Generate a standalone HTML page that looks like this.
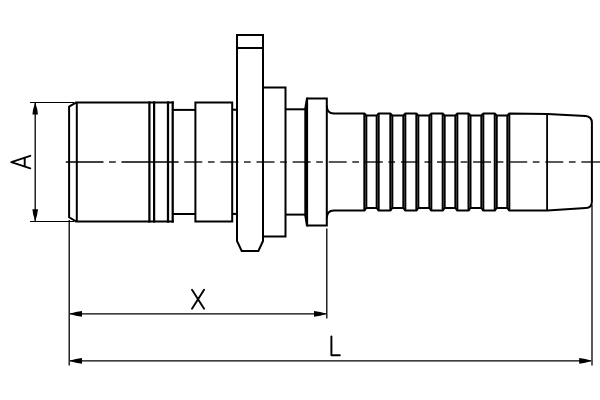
<!DOCTYPE html>
<html><head><meta charset="utf-8"><style>
html,body{margin:0;padding:0;background:#fff;}
body{width:600px;height:400px;overflow:hidden;font-family:"Liberation Sans",sans-serif;}
svg{display:block;}
</style></head><body>
<svg width="600" height="400" viewBox="0 0 600 400" stroke-linecap="butt">
<rect width="600" height="400" fill="#fff"/>
<path d="M76.4,102.4 L69.1,106.6 L69.1,217.3 L76.4,221.6" stroke="#000" stroke-width="2.0" fill="none" />
<line x1="76.8" y1="102.4" x2="76.8" y2="221.6" stroke="#000" stroke-width="2"/>
<line x1="75.7" y1="102.4" x2="173.8" y2="102.4" stroke="#000" stroke-width="2"/>
<line x1="75.7" y1="221.6" x2="173.8" y2="221.6" stroke="#000" stroke-width="2"/>
<line x1="149.4" y1="101.4" x2="149.4" y2="222.6" stroke="#000" stroke-width="2.25"/>
<line x1="154.1" y1="101.4" x2="154.1" y2="222.6" stroke="#000" stroke-width="2.25"/>
<line x1="168" y1="101.4" x2="168" y2="222.6" stroke="#000" stroke-width="2.25"/>
<line x1="172.7" y1="101.4" x2="172.7" y2="222.6" stroke="#000" stroke-width="2.25"/>
<line x1="172.7" y1="109.9" x2="195.4" y2="109.9" stroke="#000" stroke-width="2"/>
<line x1="172.7" y1="214" x2="195.4" y2="214" stroke="#000" stroke-width="2"/>
<path d="M195.4,221.6 L195.4,102.4 L232.2,102.4 L232.2,221.6 Z" stroke="#000" stroke-width="2.0" fill="none" />
<line x1="232.2" y1="109.7" x2="237" y2="109.7" stroke="#000" stroke-width="2"/>
<line x1="232.2" y1="213.9" x2="237" y2="213.9" stroke="#000" stroke-width="2"/>
<path d="M237,241 L237,35 L263,35 L263,241 L258.4,251 L241.7,251 Z" stroke="#000" stroke-width="2.0" fill="none" stroke-linejoin="miter"/>
<line x1="237" y1="48" x2="263" y2="48" stroke="#000" stroke-width="2"/>
<path d="M263,87.6 L285.5,87.6 L285.5,236.6 L263,236.6" stroke="#000" stroke-width="2.0" fill="none" />
<line x1="285.7" y1="109.3" x2="305" y2="109.3" stroke="#000" stroke-width="2"/>
<line x1="285.7" y1="214.6" x2="305" y2="214.6" stroke="#000" stroke-width="2"/>
<path d="M307,98.6 L326.8,98.6 L326.8,225.4 L307,225.4" stroke="#000" stroke-width="2.0" fill="none" />
<polygon points="306.1,97.6 308.1,97.6 308.1,226.4 306.1,226.4 304.3,215.7 304.3,108.3" fill="#000"/>
<path d="M326.8,105.8 Q326.8,113.5 333.8,113.5 L364.33,113.50 L366.33,115.40 L376.67,115.40 L378.67,113.50 L390.33,113.50 L392.33,115.40 L403.33,115.40 L405.33,113.50 L416.33,113.50 L418.33,115.40 L429.33,115.40 L431.33,113.50 L442.67,113.50 L444.67,115.40 L455.33,115.40 L457.33,113.50 L468.50,113.50 L470.50,115.40 L481.33,115.40 L483.33,113.50 L494.75,113.50 L496.75,115.40 L507.33,115.40 L509.33,113.50 L547.2,114.0 L585.5,115.9 Q591.9,116.3 591.9,122.8 L591.9,201.8 Q591.9,207.8 585.8,208.1 L547.2,210.5 L509.33,210.55 L509.33,210.55 L507.33,207.90 L496.75,207.90 L494.75,210.55 L483.33,210.55 L481.33,207.90 L470.50,207.90 L468.50,210.55 L457.33,210.55 L455.33,207.90 L444.67,207.90 L442.67,210.55 L431.33,210.55 L429.33,207.90 L418.33,207.90 L416.33,210.55 L405.33,210.55 L403.33,207.90 L392.33,207.90 L390.33,210.55 L378.67,210.55 L376.67,207.90 L366.33,207.90 L364.33,210.55 L333.8,210.55 Q326.8,210.55 326.8,218.2" stroke="#000" stroke-width="2.0" fill="none" stroke-linejoin="round"/>
<line x1="364.33" y1="113.5" x2="364.33" y2="210.55" stroke="#000" stroke-width="2"/>
<line x1="366.33" y1="115.4" x2="366.33" y2="207.9" stroke="#000" stroke-width="2"/>
<line x1="376.67" y1="115.4" x2="376.67" y2="207.9" stroke="#000" stroke-width="2"/>
<line x1="378.67" y1="113.5" x2="378.67" y2="210.55" stroke="#000" stroke-width="2"/>
<line x1="390.33" y1="113.5" x2="390.33" y2="210.55" stroke="#000" stroke-width="2"/>
<line x1="392.33" y1="115.4" x2="392.33" y2="207.9" stroke="#000" stroke-width="2"/>
<line x1="403.33" y1="115.4" x2="403.33" y2="207.9" stroke="#000" stroke-width="2"/>
<line x1="405.33" y1="113.5" x2="405.33" y2="210.55" stroke="#000" stroke-width="2"/>
<line x1="416.33" y1="113.5" x2="416.33" y2="210.55" stroke="#000" stroke-width="2"/>
<line x1="418.33" y1="115.4" x2="418.33" y2="207.9" stroke="#000" stroke-width="2"/>
<line x1="429.33" y1="115.4" x2="429.33" y2="207.9" stroke="#000" stroke-width="2"/>
<line x1="431.33" y1="113.5" x2="431.33" y2="210.55" stroke="#000" stroke-width="2"/>
<line x1="442.67" y1="113.5" x2="442.67" y2="210.55" stroke="#000" stroke-width="2"/>
<line x1="444.67" y1="115.4" x2="444.67" y2="207.9" stroke="#000" stroke-width="2"/>
<line x1="455.33" y1="115.4" x2="455.33" y2="207.9" stroke="#000" stroke-width="2"/>
<line x1="457.33" y1="113.5" x2="457.33" y2="210.55" stroke="#000" stroke-width="2"/>
<line x1="468.5" y1="113.5" x2="468.5" y2="210.55" stroke="#000" stroke-width="2"/>
<line x1="470.5" y1="115.4" x2="470.5" y2="207.9" stroke="#000" stroke-width="2"/>
<line x1="481.33" y1="115.4" x2="481.33" y2="207.9" stroke="#000" stroke-width="2"/>
<line x1="483.33" y1="113.5" x2="483.33" y2="210.55" stroke="#000" stroke-width="2"/>
<line x1="494.75" y1="113.5" x2="494.75" y2="210.55" stroke="#000" stroke-width="2"/>
<line x1="496.75" y1="115.4" x2="496.75" y2="207.9" stroke="#000" stroke-width="2"/>
<line x1="507.33" y1="115.4" x2="507.33" y2="207.9" stroke="#000" stroke-width="2"/>
<line x1="509.33" y1="113.5" x2="509.33" y2="210.55" stroke="#000" stroke-width="2"/>
<line x1="547.1" y1="113.8" x2="547.1" y2="210.5" stroke="#000" stroke-width="1.8"/>
<line x1="65.8" y1="162" x2="103.5" y2="162" stroke="#000" stroke-width="1.3"/>
<line x1="109" y1="162" x2="115.8" y2="162" stroke="#000" stroke-width="1.3"/>
<line x1="121.5" y1="162" x2="178.6" y2="162" stroke="#000" stroke-width="1.3"/>
<line x1="184.3" y1="162" x2="202.3" y2="162" stroke="#000" stroke-width="1.3"/>
<line x1="207.9" y1="162" x2="214.6" y2="162" stroke="#000" stroke-width="1.3"/>
<line x1="220.4" y1="162" x2="238.4" y2="162" stroke="#000" stroke-width="1.3"/>
<line x1="244" y1="162" x2="250.7" y2="162" stroke="#000" stroke-width="1.3"/>
<line x1="256.5" y1="162" x2="274.5" y2="162" stroke="#000" stroke-width="1.3"/>
<line x1="280.1" y1="162" x2="286.8" y2="162" stroke="#000" stroke-width="1.3"/>
<line x1="292.6" y1="162" x2="310.6" y2="162" stroke="#000" stroke-width="1.3"/>
<line x1="316.2" y1="162" x2="322.9" y2="162" stroke="#000" stroke-width="1.3"/>
<line x1="328.7" y1="162" x2="346.7" y2="162" stroke="#000" stroke-width="1.3"/>
<line x1="352.3" y1="162" x2="359" y2="162" stroke="#000" stroke-width="1.3"/>
<line x1="364.8" y1="162" x2="382.8" y2="162" stroke="#000" stroke-width="1.3"/>
<line x1="388.4" y1="162" x2="395.1" y2="162" stroke="#000" stroke-width="1.3"/>
<line x1="400.9" y1="162" x2="418.9" y2="162" stroke="#000" stroke-width="1.3"/>
<line x1="424.5" y1="162" x2="431.2" y2="162" stroke="#000" stroke-width="1.3"/>
<line x1="437" y1="162" x2="455" y2="162" stroke="#000" stroke-width="1.3"/>
<line x1="460.6" y1="162" x2="467.3" y2="162" stroke="#000" stroke-width="1.3"/>
<line x1="473.1" y1="162" x2="491.1" y2="162" stroke="#000" stroke-width="1.3"/>
<line x1="496.7" y1="162" x2="503.4" y2="162" stroke="#000" stroke-width="1.3"/>
<line x1="509.2" y1="162" x2="527.2" y2="162" stroke="#000" stroke-width="1.3"/>
<line x1="532.8" y1="162" x2="539.5" y2="162" stroke="#000" stroke-width="1.3"/>
<line x1="545.3" y1="162" x2="563.3" y2="162" stroke="#000" stroke-width="1.3"/>
<line x1="568.9" y1="162" x2="575.6" y2="162" stroke="#000" stroke-width="1.3"/>
<line x1="581.4" y1="162" x2="600" y2="162" stroke="#000" stroke-width="1.3"/>
<line x1="30" y1="102.5" x2="74" y2="102.5" stroke="#000" stroke-width="1.2"/>
<line x1="30" y1="221.5" x2="74" y2="221.5" stroke="#000" stroke-width="1.2"/>
<line x1="35.2" y1="103" x2="35.2" y2="221" stroke="#000" stroke-width="1.3"/>
<path d="M35.20,102.60 Q32.90,108.60 32.40,114.60 L38.00,114.60 Q37.50,108.60 35.20,102.60 Z" fill="#000"/>
<path d="M35.20,221.30 Q37.50,215.30 38.00,209.30 L32.40,209.30 Q32.90,215.30 35.20,221.30 Z" fill="#000"/>
<path d="M30.3,155.8 L11.3,162.1 L30.3,168.3 M24.7,157.7 L24.7,166.5" stroke="#000" stroke-width="1.9" fill="none" stroke-linecap="round" stroke-linejoin="round"/>
<line x1="69.2" y1="220" x2="69.2" y2="365.5" stroke="#000" stroke-width="1.3"/>
<line x1="326.8" y1="228.5" x2="326.8" y2="318.5" stroke="#000" stroke-width="1.3"/>
<line x1="592" y1="205" x2="592" y2="365.5" stroke="#000" stroke-width="1.3"/>
<line x1="70" y1="313.8" x2="326" y2="313.8" stroke="#000" stroke-width="1.3"/>
<path d="M69.60,313.80 Q75.80,316.15 82.00,316.70 L82.00,310.90 Q75.80,311.45 69.60,313.80 Z" fill="#000"/>
<path d="M326.40,313.80 Q320.20,311.45 314.00,310.90 L314.00,316.70 Q320.20,316.15 326.40,313.80 Z" fill="#000"/>
<path d="M192,289.8 L204.1,308.7 M204.1,289.8 L192,308.7" stroke="#000" stroke-width="1.9" fill="none" stroke-linecap="round"/>
<line x1="70" y1="360.8" x2="591" y2="360.8" stroke="#000" stroke-width="1.3"/>
<path d="M69.60,360.80 Q75.80,363.15 82.00,363.70 L82.00,357.90 Q75.80,358.45 69.60,360.80 Z" fill="#000"/>
<path d="M591.60,360.80 Q585.40,358.45 579.20,357.90 L579.20,363.70 Q585.40,363.15 591.60,360.80 Z" fill="#000"/>
<path d="M331.4,336.5 L331.4,355.3 L339.8,355.3" stroke="#000" stroke-width="1.95" fill="none" stroke-linecap="round" stroke-linejoin="round"/>
</svg>
</body></html>
